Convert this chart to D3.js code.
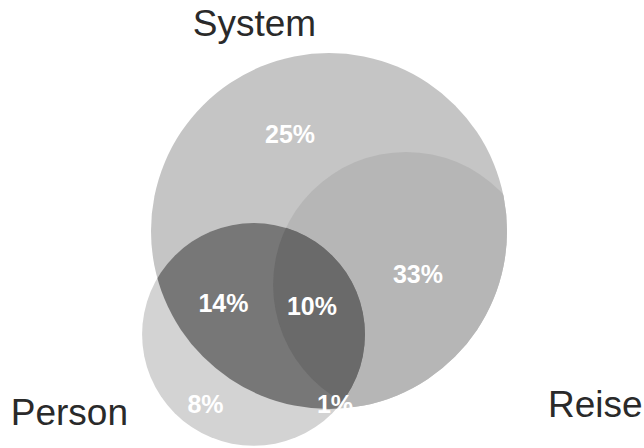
<!DOCTYPE html>
<html>
<head>
<meta charset="utf-8">
<script src="https://cdn.jsdelivr.net/npm/d3@7"></script>
<style>
  html, body { margin: 0; padding: 0; background: #ffffff; }
  svg { display: block; }
</style>
</head>
<body>
<svg id="chart" width="644" height="448"></svg>
<script>
// Set names and region shares (percent of all answers)
const setNames = ["System", "Reise", "Person"];
const regionNames = ["System", "System+Reise", "System+Person", "System+Reise+Person", "Person", "Reise+Person"];
const regionShares = [25, 33, 14, 10, 8, 1];

// Venn layout in units of the System radius (System centred at 0,0)
const circleLayout = {
  System: { cx: 0.0, cy: 0.0, r: 1.0 },
  Reise: { cx: 0.433, cy: 0.303, r: 0.747 },
  Person: { cx: -0.424, cy: 0.581, r: 0.626 }
};
const regionLabelPos = [
  [-0.219, -0.494], [0.5, 0.292], [-0.593, 0.455], [-0.096, 0.472], [-0.694, 1.022], [0.034, 1.022]
];
const setLabelPos = {
  System: { x: -0.419, y: -1.096, anchor: "middle" },
  Person: { x: -1.788, y: 1.09, anchor: "start" },
  Reise: { x: 1.23, y: 1.045, anchor: "start" }
};

const svg = d3.select("#chart");
const x = d3.scaleLinear().domain([-1, 1]).range([151, 507]);
const y = d3.scaleLinear().domain([-1, 1]).range([53, 409]);
const rs = d3.scaleLinear().domain([0, 1]).range([0, 178]);

const defs = svg.append("defs");
setNames.forEach(name => {
  const c = circleLayout[name];
  defs.append("clipPath").attr("id", "clip-" + name)
    .append("circle").attr("cx", x(c.cx)).attr("cy", y(c.cy)).attr("r", rs(c.r));
});

function circle(g, name, fill) {
  const c = circleLayout[name];
  return g.append("circle")
    .attr("cx", x(c.cx)).attr("cy", y(c.cy)).attr("r", rs(c.r))
    .attr("fill", fill);
}

const g = svg.append("g");
// System only
circle(g, "System", "#c5c5c5");
// Reise inside System
circle(g.append("g").attr("clip-path", "url(#clip-System)"), "Reise", "#b6b6b6");
// Person
circle(g, "Person", "#d3d3d3");
// Person inside System
circle(g.append("g").attr("clip-path", "url(#clip-System)"), "Person", "#777777");
// Person inside System and Reise
circle(g.append("g").attr("clip-path", "url(#clip-System)")
  .append("g").attr("clip-path", "url(#clip-Reise)"), "Person", "#6a6a6a");

// Region shares
g.selectAll("text.share")
  .data(regionShares)
  .join("text")
  .attr("class", "share")
  .attr("x", (d, i) => x(regionLabelPos[i][0]))
  .attr("y", (d, i) => y(regionLabelPos[i][1]))
  .attr("text-anchor", "middle")
  .attr("font-family", "Liberation Sans, Arial, sans-serif")
  .attr("font-weight", "bold")
  .attr("font-size", 25)
  .attr("fill", "#ffffff")
  .text(d => d + "%");

// Set names
svg.selectAll("text.set")
  .data(setNames)
  .join("text")
  .attr("class", "set")
  .attr("x", d => x(setLabelPos[d].x))
  .attr("y", d => y(setLabelPos[d].y))
  .attr("text-anchor", d => setLabelPos[d].anchor)
  .attr("font-family", "Liberation Sans, Arial, sans-serif")
  .attr("font-size", 37)
  .attr("fill", "#2a2a2a")
  .text(d => d);
</script>
</body>
</html>
